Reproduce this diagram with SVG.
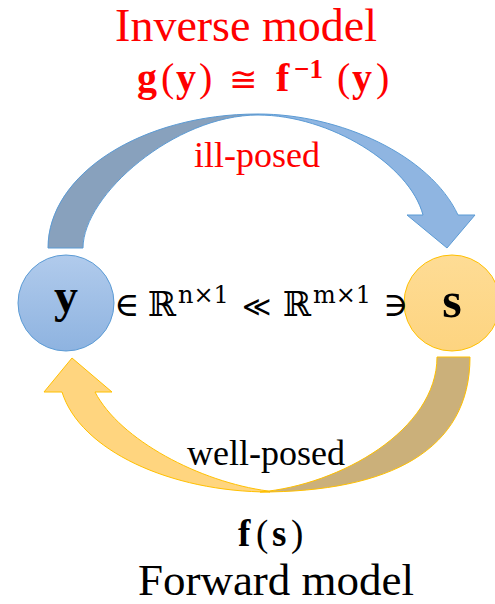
<svg xmlns="http://www.w3.org/2000/svg" width="495" height="604" viewBox="0 0 495 604">
<defs>
<linearGradient id="gy" x1="0" y1="0" x2="0" y2="1"><stop offset="0" stop-color="#b1cbec"/><stop offset="1" stop-color="#8eb3e0"/></linearGradient>
<linearGradient id="gs" x1="0" y1="0" x2="0" y2="1"><stop offset="0" stop-color="#fedc95"/><stop offset="1" stop-color="#fdd480"/></linearGradient>
</defs>
<style>
.serif{font-family:"Liberation Serif","Times New Roman",serif}
.math{font-family:"DejaVu Serif","Liberation Serif",serif}
.red{fill:#ff0000}
.blk{fill:#000000}
.b{font-weight:bold}
.blue{stroke:#5b9bd5;stroke-width:1}
.gold{stroke:#ffc000;stroke-width:1}
</style>
<rect width="495" height="604" fill="#ffffff"/>
<g id="connectors">
  <g id="inverse-arrow">
    <path class="blue" fill="#8fb5e1" d="M258,114 C340,114 430,155 458,215 L475,215 L447,248 L407,215 L423,215 C410,165 330,115 258,115 Z"/>
    <path class="blue" fill="#88a1bd" d="M48,248 C48,174 142,114 258,114 L258,115 C175,115 83,195 83,248 Z"/>
  </g>
  <g id="forward-arrow">
    <path class="gold" fill="#ffd57f" d="M72,358 L112,392 L95,392 C120,440 200,482 268,491 L270,492 C170,492 80,450 62,392 L44,392 Z"/>
    <path class="gold" fill="#cbb07a" d="M470,357 C470,450 390,492 260,492 C340,485 437,430 437,357 Z"/>
  </g>
</g>
<g id="node-y">
  <circle cx="66" cy="303" r="48" fill="url(#gy)" class="blue"/>
  <text class="serif b blk" x="66" y="312" font-size="48" text-anchor="middle">y</text>
</g>
<g id="node-s">
  <circle cx="452" cy="303" r="48" fill="url(#gs)" class="gold"/>
  <text class="serif b blk" x="452" y="317" font-size="50" text-anchor="middle">s</text>
</g>
<g id="relation">
  <text class="math blk" font-size="34" y="316">
    <tspan x="114">∈</tspan><tspan x="148">ℝ</tspan><tspan x="178" y="303" font-size="24">n×1</tspan><tspan x="242" y="316" font-size="28">≪</tspan><tspan x="283" font-size="34">ℝ</tspan><tspan x="313" y="303" font-size="24">m×1</tspan><tspan x="383" y="316" font-size="34">∋</tspan>
  </text>
</g>
<g id="inverse-label">
  <text class="serif red" x="246" y="41" font-size="46" text-anchor="middle">Inverse model</text>
  <text class="serif red" font-size="40" y="91">
    <tspan x="137" class="b">g</tspan><tspan x="161">(</tspan><tspan x="176" class="b">y</tspan><tspan x="199">)</tspan><tspan x="229" class="math" font-size="34">≅</tspan><tspan x="276" class="b">f</tspan><tspan x="294" y="78" font-size="27" class="b">−1</tspan><tspan x="337" y="91">(</tspan><tspan x="352" class="b">y</tspan><tspan x="376">)</tspan>
  </text>
  <text class="serif red" x="257" y="167" font-size="36" text-anchor="middle">ill-posed</text>
</g>
<g id="forward-label">
  <text class="serif blk" x="266" y="465" font-size="36" text-anchor="middle">well-posed</text>
  <text class="serif blk" font-size="37" y="546">
    <tspan x="238" class="b">f</tspan><tspan x="256">(</tspan><tspan x="272" class="b">s</tspan><tspan x="291">)</tspan>
  </text>
  <text class="serif blk" x="276" y="595" font-size="45" text-anchor="middle">Forward model</text>
</g>
</svg>
